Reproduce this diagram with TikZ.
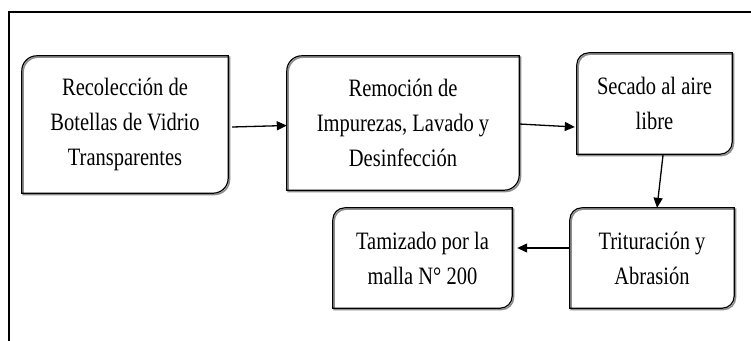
\documentclass[tikz,border=0pt]{standalone}
\usepackage{fontspec}
\setmainfont{Liberation Serif}[FakeStretch=0.82]
\usetikzlibrary{arrows.meta}
\tikzset{
  stepbox/.style={draw=none, align=center, inner sep=0pt,
    font=\fontsize{25}{35}\selectfont},
  edgeline/.style={line width=1.2pt, draw=black},
  shadowline/.style={line width=1.6pt, draw=black!45,
    transform canvas={shift={(1.3pt,-1.3pt)}}},
  flow/.style={line width=1.3pt, -{Triangle[length=10pt,width=9pt]}},
  frameline/.style={line width=1.4pt}
}
\newcommand\diagshape[3]{%
  \draw[#3] (#1.south west) -- ([yshift=-#2]#1.north west)
    arc[start angle=180,end angle=90,radius=#2] -- (#1.north east)
    -- ([yshift=#2]#1.south east)
    arc[start angle=0,end angle=-90,radius=#2] -- cycle;}
\newcommand\diagbox[2]{\diagshape{#1}{#2}{shadowline}\diagshape{#1}{#2}{edgeline}}
\begin{document}
\begin{tikzpicture}[x=1pt,y=-1pt]
\useasboundingbox (0,0) rectangle (751,340);
\draw[frameline] (9,341) -- (9,12) -- (752,12);

\node[stepbox, minimum width=206pt, minimum height=137pt] (b1) at (125,124.5)
  {Recolección de\\Botellas de Vidrio\\Transparentes};
\node[stepbox, minimum width=232pt, minimum height=134pt] (b2) at (403,123)
  {Remoción de\\Impurezas, Lavado y\\Desinfección};
\node[stepbox, minimum width=155pt, minimum height=101pt] (b3) at (654.5,103.5)
  {Secado al aire\\libre};
\node[stepbox, minimum width=164pt, minimum height=100pt] (b5) at (652,258)
  {Trituración y\\Abrasión};
\node[stepbox, minimum width=179pt, minimum height=100pt] (b4) at (422.5,258)
  {Tamizado por la\\malla N° 200};

\diagbox{b1}{15pt}
\diagbox{b2}{15pt}
\diagbox{b3}{12pt}
\diagbox{b5}{12pt}
\diagbox{b4}{12pt}

\draw[flow] ([xshift=4pt,yshift=-2.5pt]b1.east) -- ([yshift=-2.5pt]b2.west);
\draw[flow] ([yshift=-1pt]b2.east) -- ([xshift=-2pt,yshift=-23.5pt]b3.west);
\draw[flow] ([xshift=8.5pt,yshift=-1pt]b3.south) -- ([xshift=5pt]b5.north);
\draw[flow] ([yshift=10pt]b5.west) -- ([xshift=5pt,yshift=10pt]b4.east);
\end{tikzpicture}
\end{document}
